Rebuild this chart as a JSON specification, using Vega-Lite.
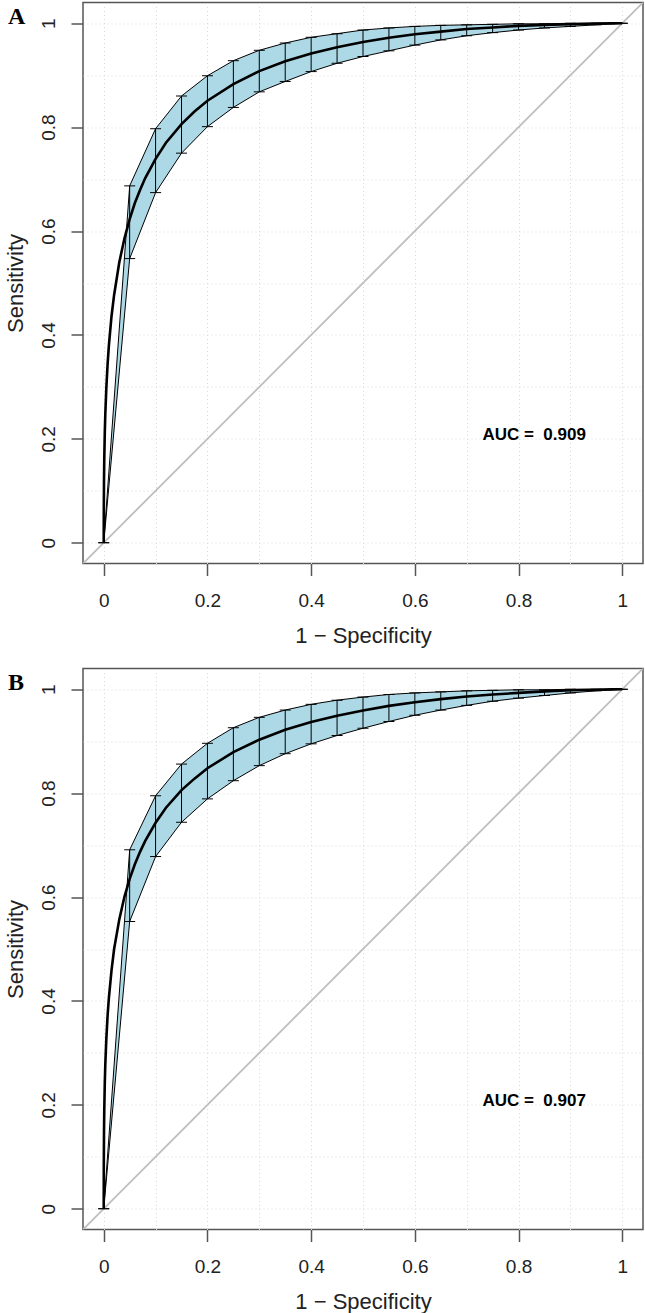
{
  "$schema": "https://vega.github.io/schema/vega-lite/v6.json",
  "autosize": {"type": "pad"},
  "padding": {"left": 3, "top": 1.5, "right": 2, "bottom": 0},
  "background": "white",
  "spacing": 105,
  "bounds": "flush",
  "config": {
    "view": {"stroke": "#555", "strokeWidth": 1.5},
    "axis": {
      "domain": false,
      "labelFont": "Liberation Sans", "labelFontSize": 19, "labelColor": "#222",
      "titleFont": "Liberation Sans", "titleFontSize": 22, "titleColor": "#222", "titleFontWeight": "normal",
      "tickColor": "#555", "tickWidth": 1.5, "tickSize": 12,
      "gridColor": "#d9d9d9", "gridDash": [1, 3], "gridWidth": 1,
      "labelOverlap": false, "labelFlush": false
    }
  },
  "datasets": {
    "diag": [{"x": -0.04, "y": -0.04}, {"x": 1.04, "y": 1.04}],
    "curveA": [
      {"x": 0, "y": 0}, {"x": 0.0001, "y": 0.059}, {"x": 0.0005, "y": 0.12}, {"x": 0.001, "y": 0.16},
      {"x": 0.002, "y": 0.211}, {"x": 0.003, "y": 0.247}, {"x": 0.005, "y": 0.298}, {"x": 0.0075, "y": 0.345},
      {"x": 0.01, "y": 0.381}, {"x": 0.015, "y": 0.436}, {"x": 0.02, "y": 0.477}, {"x": 0.03, "y": 0.54},
      {"x": 0.04, "y": 0.586}, {"x": 0.05, "y": 0.623}, {"x": 0.06, "y": 0.654}, {"x": 0.07, "y": 0.679},
      {"x": 0.08, "y": 0.702}, {"x": 0.1, "y": 0.739}, {"x": 0.12, "y": 0.77}, {"x": 0.15, "y": 0.806},
      {"x": 0.175, "y": 0.83}, {"x": 0.2, "y": 0.851}, {"x": 0.25, "y": 0.883}, {"x": 0.3, "y": 0.908},
      {"x": 0.35, "y": 0.927}, {"x": 0.4, "y": 0.942}, {"x": 0.45, "y": 0.954}, {"x": 0.5, "y": 0.964},
      {"x": 0.55, "y": 0.972}, {"x": 0.6, "y": 0.979}, {"x": 0.65, "y": 0.984}, {"x": 0.7, "y": 0.989},
      {"x": 0.75, "y": 0.992}, {"x": 0.8, "y": 0.995}, {"x": 0.85, "y": 0.997}, {"x": 0.9, "y": 0.998},
      {"x": 0.95, "y": 0.9995}, {"x": 0.98, "y": 0.9999}, {"x": 1, "y": 1}
    ],
    "bandA": [
      {"x": 0, "lo": 0, "hi": 0}, {"x": 0.05, "lo": 0.547, "hi": 0.687}, {"x": 0.1, "lo": 0.674, "hi": 0.797},
      {"x": 0.15, "lo": 0.75, "hi": 0.86}, {"x": 0.2, "lo": 0.801, "hi": 0.899}, {"x": 0.25, "lo": 0.838, "hi": 0.928},
      {"x": 0.3, "lo": 0.868, "hi": 0.948}, {"x": 0.35, "lo": 0.888, "hi": 0.962}, {"x": 0.4, "lo": 0.907, "hi": 0.973},
      {"x": 0.45, "lo": 0.923, "hi": 0.98}, {"x": 0.5, "lo": 0.936, "hi": 0.987}, {"x": 0.55, "lo": 0.947, "hi": 0.991},
      {"x": 0.6, "lo": 0.958, "hi": 0.994}, {"x": 0.65, "lo": 0.968, "hi": 0.996}, {"x": 0.7, "lo": 0.976, "hi": 0.997},
      {"x": 0.75, "lo": 0.982, "hi": 0.998}, {"x": 0.8, "lo": 0.987, "hi": 0.999}, {"x": 0.85, "lo": 0.991, "hi": 0.999},
      {"x": 0.9, "lo": 0.994, "hi": 1}, {"x": 0.95, "lo": 0.997, "hi": 1}, {"x": 1, "lo": 1, "hi": 1}
    ],
    "curveB": [
      {"x": 0, "y": 0}, {"x": 0.0001, "y": 0.078}, {"x": 0.0005, "y": 0.146}, {"x": 0.001, "y": 0.188},
      {"x": 0.002, "y": 0.241}, {"x": 0.003, "y": 0.277}, {"x": 0.005, "y": 0.327}, {"x": 0.0075, "y": 0.373},
      {"x": 0.01, "y": 0.407}, {"x": 0.015, "y": 0.459}, {"x": 0.02, "y": 0.5}, {"x": 0.03, "y": 0.557},
      {"x": 0.04, "y": 0.601}, {"x": 0.05, "y": 0.635}, {"x": 0.06, "y": 0.663}, {"x": 0.07, "y": 0.687},
      {"x": 0.08, "y": 0.708}, {"x": 0.1, "y": 0.743}, {"x": 0.12, "y": 0.772}, {"x": 0.15, "y": 0.806},
      {"x": 0.175, "y": 0.828}, {"x": 0.2, "y": 0.848}, {"x": 0.25, "y": 0.879}, {"x": 0.3, "y": 0.903},
      {"x": 0.35, "y": 0.922}, {"x": 0.4, "y": 0.937}, {"x": 0.45, "y": 0.949}, {"x": 0.5, "y": 0.959},
      {"x": 0.55, "y": 0.968}, {"x": 0.6, "y": 0.975}, {"x": 0.65, "y": 0.981}, {"x": 0.7, "y": 0.986},
      {"x": 0.75, "y": 0.99}, {"x": 0.8, "y": 0.993}, {"x": 0.85, "y": 0.996}, {"x": 0.9, "y": 0.998},
      {"x": 0.95, "y": 0.9992}, {"x": 0.98, "y": 0.9998}, {"x": 1, "y": 1}
    ],
    "bandB": [
      {"x": 0, "lo": 0, "hi": 0}, {"x": 0.05, "lo": 0.553, "hi": 0.691}, {"x": 0.1, "lo": 0.678, "hi": 0.795},
      {"x": 0.15, "lo": 0.744, "hi": 0.856}, {"x": 0.2, "lo": 0.789, "hi": 0.896}, {"x": 0.25, "lo": 0.824, "hi": 0.926},
      {"x": 0.3, "lo": 0.853, "hi": 0.946}, {"x": 0.35, "lo": 0.876, "hi": 0.96}, {"x": 0.4, "lo": 0.895, "hi": 0.971},
      {"x": 0.45, "lo": 0.911, "hi": 0.979}, {"x": 0.5, "lo": 0.925, "hi": 0.985}, {"x": 0.55, "lo": 0.938, "hi": 0.99},
      {"x": 0.6, "lo": 0.95, "hi": 0.993}, {"x": 0.65, "lo": 0.96, "hi": 0.995}, {"x": 0.7, "lo": 0.969, "hi": 0.997},
      {"x": 0.75, "lo": 0.977, "hi": 0.998}, {"x": 0.8, "lo": 0.983, "hi": 0.999}, {"x": 0.85, "lo": 0.988, "hi": 0.999},
      {"x": 0.9, "lo": 0.993, "hi": 1}, {"x": 0.95, "lo": 0.997, "hi": 1}, {"x": 1, "lo": 1, "hi": 1}
    ],
    "aucA": [{"x": 0.83, "y": 0.207, "label": "AUC = \u00a00.909"}],
    "aucB": [{"x": 0.83, "y": 0.208, "label": "AUC = \u00a00.907"}],
    "tagA": [{"x": -0.04, "y": 1.04, "label": "A"}],
    "tagB": [{"x": -0.04, "y": 1.04, "label": "B"}]
  },
  "vconcat": [
    {
      "width": 560, "height": 561,
      "encoding": {
        "x": {"field": "x", "type": "quantitative", "scale": {"domain": [-0.04, 1.04], "nice": false, "zero": false},
              "axis": {"title": "1 \u2212 Specificity", "values": [0, 0.1, 0.2, 0.3, 0.4, 0.5, 0.6, 0.7, 0.8, 0.9, 1], "grid": true,
                       "labelExpr": "round(datum.value*10) % 2 === 1 ? '' : format(datum.value, '~g')",
                       "tickOpacity": {"condition": {"test": "round(datum.value*10) % 2 === 1", "value": 0}, "value": 1},
                       "labelPadding": 16, "titlePadding": 15}}
      },
      "layer": [
        {"data": {"name": "diag"}, "mark": {"type": "line", "color": "#bebebe", "strokeWidth": 1.8, "clip": true},
         "encoding": {"y": {"field": "y", "type": "quantitative", "scale": {"domain": [-0.04, 1.04], "nice": false, "zero": false},
              "axis": {"title": "Sensitivity", "values": [0, 0.1, 0.2, 0.3, 0.4, 0.5, 0.6, 0.7, 0.8, 0.9, 1], "grid": true,
                       "labelExpr": "round(datum.value*10) % 2 === 1 ? '' : format(datum.value, '~g')",
                       "tickOpacity": {"condition": {"test": "round(datum.value*10) % 2 === 1", "value": 0}, "value": 1},
                       "labelAngle": -90, "labelAlign": "center", "labelBaseline": "alphabetic", "labelPadding": 17, "titlePadding": 12}}}},
        {"data": {"name": "bandA"}, "mark": {"type": "area", "fill": "#add8e6", "stroke": "black", "strokeWidth": 1, "opacity": 1},
         "encoding": {"y": {"field": "lo", "type": "quantitative", "title": "Sensitivity"}, "y2": {"field": "hi"}}},
        {"data": {"name": "bandA"}, "mark": {"type": "rule", "color": "black", "strokeWidth": 1},
         "encoding": {"y": {"field": "lo", "type": "quantitative", "title": "Sensitivity"}, "y2": {"field": "hi"}}},
        {"data": {"name": "bandA"}, "mark": {"type": "tick", "orient": "horizontal", "color": "black", "size": 11, "thickness": 1, "opacity": 1},
         "encoding": {"y": {"field": "lo", "type": "quantitative", "title": "Sensitivity"}}},
        {"data": {"name": "bandA"}, "mark": {"type": "tick", "orient": "horizontal", "color": "black", "size": 11, "thickness": 1, "opacity": 1},
         "encoding": {"y": {"field": "hi", "type": "quantitative", "title": "Sensitivity"}}},
        {"data": {"name": "curveA"}, "mark": {"type": "line", "color": "black", "strokeWidth": 2.6},
         "encoding": {"y": {"field": "y", "type": "quantitative", "title": "Sensitivity"}}},
        {"data": {"name": "aucA"}, "mark": {"type": "text", "font": "Liberation Sans", "fontSize": 17, "fontWeight": "bold", "color": "black", "align": "center", "baseline": "middle"},
         "encoding": {"y": {"field": "y", "type": "quantitative", "title": "Sensitivity"}, "text": {"field": "label"}}},
        {"data": {"name": "tagA"}, "mark": {"type": "text", "font": "Liberation Serif", "fontSize": 24, "fontWeight": "bold", "color": "black", "align": "left", "baseline": "alphabetic", "dx": -75, "dy": 21},
         "encoding": {"y": {"field": "y", "type": "quantitative", "title": "Sensitivity"}, "text": {"field": "label"}}}
      ]
    },
    {
      "width": 560, "height": 561,
      "encoding": {
        "x": {"field": "x", "type": "quantitative", "scale": {"domain": [-0.04, 1.04], "nice": false, "zero": false},
              "axis": {"title": "1 \u2212 Specificity", "values": [0, 0.1, 0.2, 0.3, 0.4, 0.5, 0.6, 0.7, 0.8, 0.9, 1], "grid": true,
                       "labelExpr": "round(datum.value*10) % 2 === 1 ? '' : format(datum.value, '~g')",
                       "tickOpacity": {"condition": {"test": "round(datum.value*10) % 2 === 1", "value": 0}, "value": 1},
                       "labelPadding": 16, "titlePadding": 15}}
      },
      "layer": [
        {"data": {"name": "diag"}, "mark": {"type": "line", "color": "#bebebe", "strokeWidth": 1.8, "clip": true},
         "encoding": {"y": {"field": "y", "type": "quantitative", "scale": {"domain": [-0.04, 1.04], "nice": false, "zero": false},
              "axis": {"title": "Sensitivity", "values": [0, 0.1, 0.2, 0.3, 0.4, 0.5, 0.6, 0.7, 0.8, 0.9, 1], "grid": true,
                       "labelExpr": "round(datum.value*10) % 2 === 1 ? '' : format(datum.value, '~g')",
                       "tickOpacity": {"condition": {"test": "round(datum.value*10) % 2 === 1", "value": 0}, "value": 1},
                       "labelAngle": -90, "labelAlign": "center", "labelBaseline": "alphabetic", "labelPadding": 17, "titlePadding": 12}}}},
        {"data": {"name": "bandB"}, "mark": {"type": "area", "fill": "#add8e6", "stroke": "black", "strokeWidth": 1, "opacity": 1},
         "encoding": {"y": {"field": "lo", "type": "quantitative", "title": "Sensitivity"}, "y2": {"field": "hi"}}},
        {"data": {"name": "bandB"}, "mark": {"type": "rule", "color": "black", "strokeWidth": 1},
         "encoding": {"y": {"field": "lo", "type": "quantitative", "title": "Sensitivity"}, "y2": {"field": "hi"}}},
        {"data": {"name": "bandB"}, "mark": {"type": "tick", "orient": "horizontal", "color": "black", "size": 11, "thickness": 1, "opacity": 1},
         "encoding": {"y": {"field": "lo", "type": "quantitative", "title": "Sensitivity"}}},
        {"data": {"name": "bandB"}, "mark": {"type": "tick", "orient": "horizontal", "color": "black", "size": 11, "thickness": 1, "opacity": 1},
         "encoding": {"y": {"field": "hi", "type": "quantitative", "title": "Sensitivity"}}},
        {"data": {"name": "curveB"}, "mark": {"type": "line", "color": "black", "strokeWidth": 2.6},
         "encoding": {"y": {"field": "y", "type": "quantitative", "title": "Sensitivity"}}},
        {"data": {"name": "aucB"}, "mark": {"type": "text", "font": "Liberation Sans", "fontSize": 17, "fontWeight": "bold", "color": "black", "align": "center", "baseline": "middle"},
         "encoding": {"y": {"field": "y", "type": "quantitative", "title": "Sensitivity"}, "text": {"field": "label"}}},
        {"data": {"name": "tagB"}, "mark": {"type": "text", "font": "Liberation Serif", "fontSize": 24, "fontWeight": "bold", "color": "black", "align": "left", "baseline": "alphabetic", "dx": -75, "dy": 21},
         "encoding": {"y": {"field": "y", "type": "quantitative", "title": "Sensitivity"}, "text": {"field": "label"}}}
      ]
    }
  ]
}
